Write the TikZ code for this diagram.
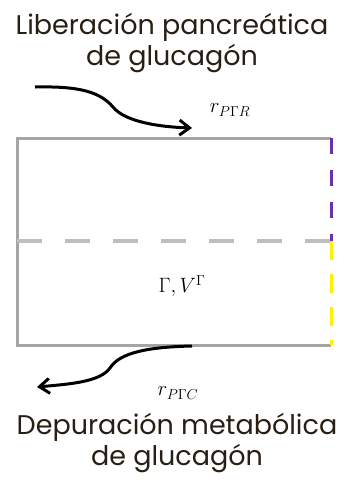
\documentclass[tikz,border=0pt]{standalone}
\usepackage{fontspec}
\setmainfont{Poppins}
\usetikzlibrary{arrows.meta}
\definecolor{boxgray}{RGB}{165,165,165}
\definecolor{dashgray}{RGB}{190,190,190}
\definecolor{purp}{RGB}{112,48,160}
\definecolor{yell}{RGB}{255,240,0}
\definecolor{txt}{RGB}{40,30,20}
\begin{document}
\begin{tikzpicture}[x=1pt,y=-1pt,
	wall/.style={boxgray,line width=3pt},
	seam/.style={line width=3pt},
	flux/.style={-{Straight Barb[length=10pt,width=15pt]},line width=3pt},
	lbl/.style={txt,font=\fontsize{27}{31}\selectfont,align=center},
	sym/.style={font=\fontsize{22}{26}\selectfont}]

	\useasboundingbox (0,0) rectangle (352,483);

	% compartment
	\coordinate (tl) at (17,138);
	\coordinate (tr) at (331,138);
	\coordinate (ml) at (17,241);
	\coordinate (mr) at (331,241);
	\coordinate (bl) at (17,345);
	\coordinate (br) at (331,345);
	\draw [wall] (tr) -- (tl) -- (bl) -- (br);
	\draw [seam,dashgray,line width=4.5pt,dash pattern=on 25pt off 23pt] (ml) -- (mr);
	\draw [seam,purp,dash pattern=on 16pt off 16pt] (tr) -- (mr);
	\draw [seam,yell,dash pattern=on 19pt off 14pt] (mr) -- (br);
	\node [sym] (vol) at (182,286) {$\Gamma, V^{\Gamma}$};

	% labels
	\node [lbl] (rel) at (172,43) {Liberación pancreática\\de glucagón};
	\node [lbl] (dep) at (177,443) {Depuración metabólica\\de glucagón};
	\node [sym] (rin) at (230,110) {$r_{P\Gamma R}$};
	\node [sym] (rout) at (178,393) {$r_{P\Gamma C}$};

	% fluxes
	\coordinate (inA) at (35,87);
	\coordinate (inB) at (192,128);
	\coordinate (outA) at (192,346);
	\coordinate (outB) at (37,387);
	\draw [flux] (inA) .. controls (80,86) and (100,92) .. (113,107) .. controls (125,122) and (160,127) .. (inB);
	\draw [flux] (outA) .. controls (150,347) and (120,352) .. (110,368) .. controls (100,382) and (70,384) .. (outB);

\end{tikzpicture}
\end{document}
